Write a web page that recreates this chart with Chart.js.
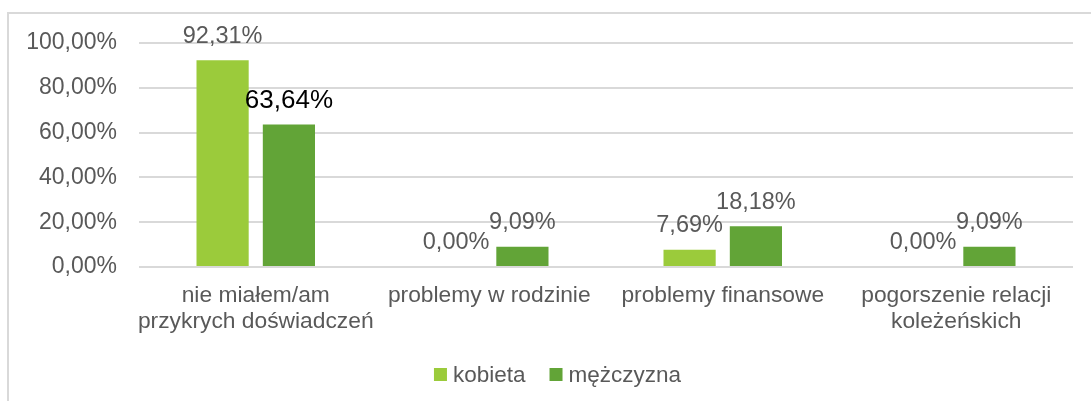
<!DOCTYPE html>
<html>
<head>
<meta charset="utf-8">
<script src="https://cdn.jsdelivr.net/npm/chart.js@4.4.1/dist/chart.umd.min.js"></script>
<style>
  html, body { margin: 0; padding: 0; background: #ffffff; }
  #wrap { width: 1091px; height: 401px; position: relative; }
</style>
</head>
<body>
<div id="wrap"><canvas id="chart" width="1091" height="401"></canvas></div>
<script>
// Categories (multi-line labels as arrays)
const categories = [
  ['nie miałem/am', 'przykrych doświadczeń'],
  'problemy w rodzinie',
  'problemy finansowe',
  ['pogorszenie relacji', 'koleżeńskich']
];
const seriesNames = ['kobieta', 'mężczyzna'];
const kobieta = [92.31, 0.00, 7.69, 0.00];
const mezczyzna = [63.64, 9.09, 18.18, 9.09];
const yTicks = [0, 20, 40, 60, 80, 100];

const COLORS = ['#9BCB3B', '#62A437'];
const TEXT = '#595959';
const GRID = '#D9D9D9';
const FONT = '"Liberation Sans", Arial, sans-serif';

const pct = v => v.toFixed(2).replace('.', ',') + '%';

// Frame around the chart object
const framePlugin = {
  id: 'frame',
  beforeDraw(chart) {
    const ctx = chart.ctx;
    ctx.save();
    ctx.fillStyle = GRID;
    ctx.fillRect(7, 12, 2, chart.height);
    ctx.fillRect(7, 12, chart.width, 2);
    ctx.restore();
  }
};

// Value labels above each bar
const valueLabels = {
  id: 'valueLabels',
  afterDatasetsDraw(chart) {
    const ctx = chart.ctx;
    ctx.save();
    ctx.textAlign = 'center';
    ctx.textBaseline = 'middle';
    chart.data.datasets.forEach((ds, di) => {
      const meta = chart.getDatasetMeta(di);
      meta.data.forEach((el, i) => {
        const v = ds.data[i];
        const emphasised = ds.emphasis && ds.emphasis[i];
        ctx.font = (emphasised ? '26px ' : '23.5px ') + FONT;
        ctx.fillStyle = emphasised ? '#000000' : TEXT;
        ctx.fillText(pct(v), el.x, el.y - 24);
      });
    });
    ctx.restore();
  }
};

// Legend row under the axis
const legendRow = {
  id: 'legendRow',
  afterDraw(chart) {
    const ctx = chart.ctx;
    ctx.save();
    ctx.font = '22.5px ' + FONT;
    ctx.textBaseline = 'middle';
    ctx.textAlign = 'left';
    const box = 13, gapText = 6, gapItem = 24, cy = 374.5;
    const items = chart.data.datasets.map(ds => ({
      label: ds.label, color: ds.backgroundColor,
      w: box + gapText + ctx.measureText(ds.label).width
    }));
    const total = items.reduce((s, it) => s + it.w, 0) + gapItem * (items.length - 1);
    let x = 557.5 - total / 2;
    items.forEach(it => {
      ctx.fillStyle = it.color;
      ctx.fillRect(x, cy - box / 2, box, box);
      ctx.fillStyle = TEXT;
      ctx.fillText(it.label, x + box + gapText, cy + 1);
      x += it.w + gapItem;
    });
    ctx.restore();
  }
};

new Chart(document.getElementById('chart'), {
  type: 'bar',
  data: {
    labels: categories,
    datasets: [
      { label: seriesNames[0], data: kobieta, backgroundColor: COLORS[0] },
      { label: seriesNames[1], data: mezczyzna, backgroundColor: COLORS[1],
        emphasis: [true, false, false, false] }
    ]
  },
  options: {
    responsive: false,
    animation: false,
    devicePixelRatio: 1,
    layout: { padding: { left: 0, right: 18, top: 43, bottom: 44 } },
    datasets: { bar: { categoryPercentage: 0.568, barPercentage: 0.787 } },
    plugins: { legend: { display: false }, tooltip: { enabled: false } },
    scales: {
      x: {
        grid: { display: false, drawTicks: false },
        border: { display: false },
        ticks: {
          color: TEXT, padding: 15, maxRotation: 0, autoSkip: false,
          font: { family: FONT, size: 22.8, lineHeight: 1.17 }
        },
        afterFit(scale) { scale.height = 90; }
      },
      y: {
        min: 0, max: 100,
        afterBuildTicks(scale) { scale.ticks = yTicks.map(v => ({ value: v })); },
        grid: { color: GRID, lineWidth: 2, drawTicks: false },
        border: { display: false },
        ticks: {
          color: TEXT, padding: 22,
          font: { family: FONT, size: 23 },
          callback: v => pct(v)
        },
        afterFit(scale) { scale.width = 139; }
      }
    }
  },
  plugins: [framePlugin, valueLabels, legendRow]
});
</script>
</body>
</html>
